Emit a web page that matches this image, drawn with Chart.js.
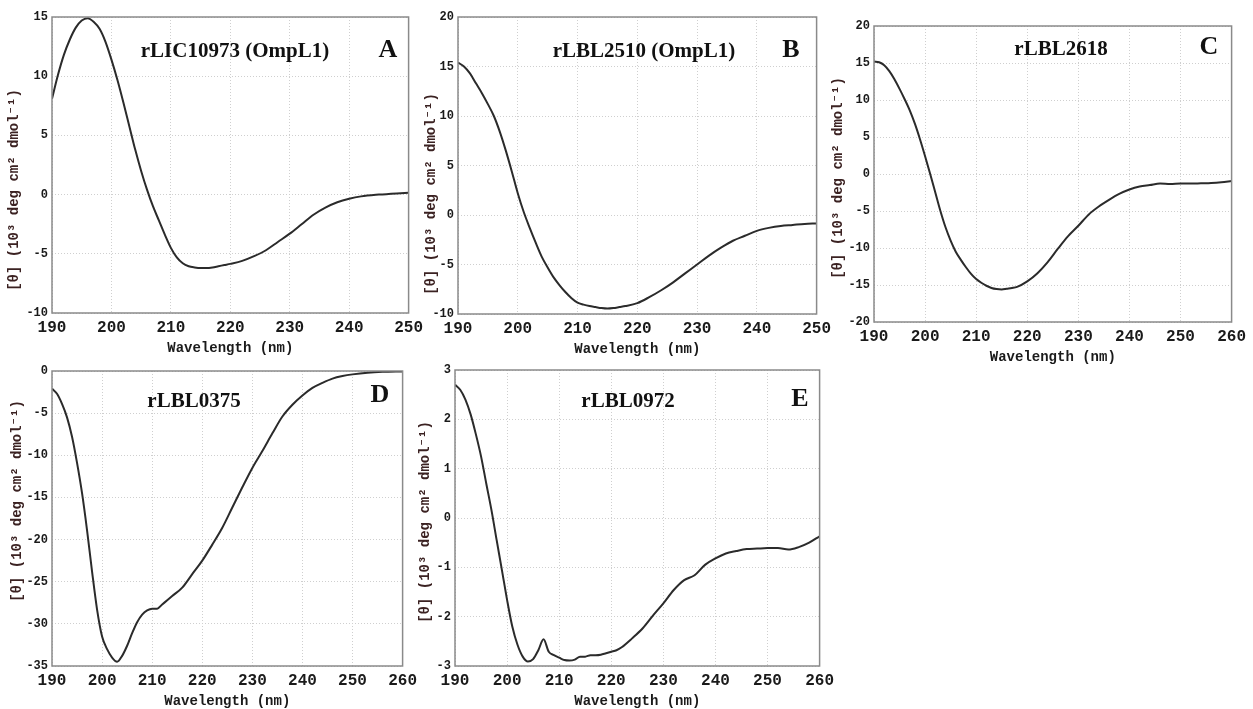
<!DOCTYPE html>
<html>
<head>
<meta charset="utf-8">
<script src="https://cdn.jsdelivr.net/npm/chart.js@4.4.1/dist/chart.umd.min.js"></script>
<style>
  html, body { margin: 0; padding: 0; background: #fff; overflow: hidden; }
  body { width: 1253px; height: 709px; position: relative; }
  canvas { position: absolute; }
</style>
</head>
<body>
<canvas id="chartA" width="426" height="356" style="left:2px;top:5px"></canvas>
<canvas id="chartB" width="417" height="357" style="left:419px;top:5px"></canvas>
<canvas id="chartC" width="425" height="356" style="left:826px;top:14px"></canvas>
<canvas id="chartD" width="417" height="355" style="left:5px;top:359px"></canvas>
<canvas id="chartE" width="426" height="356" style="left:413px;top:358px"></canvas>
<script>
// CD spectra data (wavelength nm, mean residue ellipticity x10^3)
const wlA = [190,191,192,193,194,195,196,197,198,199,200,201,202,203,204,205,206,207,208,209,210,211,212,213,214,215,216,217,218,219,220,222,224,226,228,230,232,234,236,238,240,242,245,248,250];
const thetaA = [8.1,10.1,11.8,13.1,14.1,14.7,14.9,14.6,14.0,12.9,11.4,9.7,7.8,5.8,3.8,2.0,0.4,-1.0,-2.2,-3.4,-4.5,-5.3,-5.8,-6.05,-6.15,-6.2,-6.2,-6.15,-6.05,-5.95,-5.85,-5.6,-5.2,-4.7,-4.0,-3.3,-2.5,-1.7,-1.1,-0.65,-0.35,-0.15,0.0,0.1,0.15];

const wlB = [190,191,192,193,194,195,196,197,198,199,200,201,202,203,204,205,206,207,208,209,210,211,212,213,214,215,216,217,218,220,222,224,226,228,230,232,234,236,238,240,242,244,246,248,250];
const thetaB = [15.4,15.0,14.3,13.3,12.3,11.2,10.0,8.4,6.5,4.4,2.2,0.3,-1.3,-2.8,-4.2,-5.3,-6.3,-7.1,-7.8,-8.4,-8.85,-9.05,-9.2,-9.3,-9.4,-9.45,-9.4,-9.3,-9.2,-8.9,-8.3,-7.6,-6.8,-5.9,-5.0,-4.1,-3.3,-2.6,-2.1,-1.6,-1.3,-1.1,-1.0,-0.9,-0.85];

const wlC = [190,191,192,193,194,195,196,197,198,199,200,201,202,203,204,205,206,207,208,209,210,211,212,213,214,215,216,217,218,220,222,224,226,228,230,232,234,236,238,240,242,244,246,248,250,252,254,256,258,260];
const thetaC = [15.2,15.1,14.7,13.9,12.8,11.5,10.1,8.6,6.8,4.7,2.4,0.0,-2.5,-5.0,-7.2,-9.0,-10.5,-11.6,-12.6,-13.5,-14.2,-14.7,-15.1,-15.4,-15.55,-15.6,-15.5,-15.4,-15.25,-14.5,-13.4,-11.9,-10.1,-8.4,-7.0,-5.5,-4.4,-3.5,-2.7,-2.1,-1.7,-1.5,-1.3,-1.35,-1.3,-1.3,-1.25,-1.2,-1.1,-0.95];

const wlD = [190,191,192,193,194,195,196,197,198,199,200,201,202,203,204,205,206,207,208,209,210,211,212,213,214,216,218,220,222,224,226,228,230,232,234,236,238,240,242,244,246,248,250,253,256,260];
const thetaD = [-2.1,-2.7,-3.9,-5.5,-7.8,-10.9,-14.5,-18.9,-23.8,-28.3,-31.5,-33.0,-34.0,-34.5,-33.8,-32.6,-31.1,-29.8,-28.9,-28.4,-28.2,-28.2,-27.7,-27.2,-26.7,-25.7,-24.1,-22.5,-20.6,-18.6,-16.2,-13.8,-11.5,-9.5,-7.4,-5.4,-4.0,-2.9,-2.0,-1.4,-0.9,-0.6,-0.4,-0.2,-0.1,-0.05];

const wlE = [190,191,192,193,194,195,196,197,198,199,200,201,202,203,204,205,206,207,208,209,210,211,212,213,214,215,216,217,218,219,220,221,222,224,226,228,230,232,234,236,238,240,242,244,246,248,250,252,254,256,258,260];
const thetaE = [2.7,2.6,2.4,2.1,1.7,1.25,0.7,0.16,-0.45,-1.05,-1.66,-2.2,-2.57,-2.81,-2.91,-2.86,-2.68,-2.46,-2.71,-2.78,-2.83,-2.88,-2.89,-2.87,-2.81,-2.81,-2.78,-2.78,-2.77,-2.74,-2.71,-2.68,-2.62,-2.44,-2.24,-1.98,-1.73,-1.46,-1.26,-1.16,-0.95,-0.82,-0.72,-0.67,-0.63,-0.62,-0.61,-0.61,-0.64,-0.59,-0.5,-0.37];

const yTitle = "[θ] (10³ deg cm² dmol⁻¹)";
const xTitle = "Wavelength (nm)";

// panel labels, y-axis title and the plot frame
const panelText = {
  id: "panelText",
  afterDraw(chart, args, opts) {
    const { ctx, chartArea } = chart;
    ctx.save();
    ctx.strokeStyle = "#8a8a8a";
    ctx.lineWidth = 1.5;
    ctx.strokeRect(chartArea.left, chartArea.top, chartArea.right - chartArea.left, chartArea.bottom - chartArea.top);
    ctx.fillStyle = "#111";
    ctx.textAlign = "center";
    ctx.textBaseline = "middle";
    ctx.font = "bold 21px 'Liberation Serif', 'Times New Roman', serif";
    ctx.fillText(opts.name, chartArea.left + opts.nameX, chartArea.top + opts.nameY);
    ctx.font = "bold 26px 'Liberation Serif', 'Times New Roman', serif";
    ctx.fillText(opts.letter, chartArea.left + opts.letterX, chartArea.top + opts.letterY);
    // y title
    ctx.translate(12, opts.yTitleY);
    ctx.rotate(-Math.PI / 2);
    ctx.fillStyle = "#3b2222";
    ctx.font = "bold 14px 'Liberation Mono', 'Courier New', monospace";
    ctx.fillText(yTitle, 0, 0);
    ctx.restore();
  },
};

function makeChart(id, wl, theta, xMax, yMin, yMax, yStep, yWidth, label) {
  return new Chart(document.getElementById(id).getContext("2d"), {
    type: "line",
    data: {
      datasets: [
        {
          data: wl.map((w, i) => ({ x: w, y: theta[i] })),
          borderColor: "#2b2b2b",
          borderWidth: 2,
          pointRadius: 0,
          cubicInterpolationMode: "monotone",
        },
      ],
    },
    options: {
      responsive: false,
      animation: false,
      layout: { padding: { left: 0, top: 12, right: 18, bottom: 0 } },
      plugins: {
        legend: { display: false },
        tooltip: { enabled: false },
        panelText: label,
      },
      scales: {
        x: {
          type: "linear",
          min: 190,
          max: xMax,
          afterFit: (s) => { s.height = 48; },
          ticks: {
            stepSize: 10,
            padding: 5,
            color: "#1a1a1a",
            font: { family: "'Liberation Mono', 'Courier New', monospace", size: 16, weight: "bold" },
          },
          grid: { color: "#cfcfcf", drawTicks: false },
          border: { display: false, dash: [1, 2] },
          title: {
            display: true,
            text: xTitle,
            color: "#1a1a1a",
            padding: { top: 0, bottom: 4 },
            font: { family: "'Liberation Mono', 'Courier New', monospace", size: 14, weight: "bold" },
          },
        },
        y: {
          min: yMin,
          max: yMax,
          afterFit: (s) => { s.width = yWidth; },
          ticks: {
            stepSize: yStep,
            padding: 4,
            color: "#1a1a1a",
            font: { family: "'Liberation Mono', 'Courier New', monospace", size: 12, weight: "bold" },
          },
          grid: { color: "#cfcfcf", drawTicks: false },
          border: { display: false, dash: [1, 2] },
        },
      },
    },
    plugins: [panelText],
  });
}

makeChart("chartA", wlA, thetaA, 250, -10, 15, 5, 50,
  { name: "rLIC10973 (OmpL1)", nameX: 183, nameY: 35, letter: "A", letterX: 336, letterY: 33, yTitleY: 185 });
makeChart("chartB", wlB, thetaB, 250, -10, 20, 5, 39,
  { name: "rLBL2510 (OmpL1)", nameX: 186, nameY: 35, letter: "B", letterX: 333, letterY: 33, yTitleY: 189 });
makeChart("chartC", wlC, thetaC, 260, -20, 20, 5, 48,
  { name: "rLBL2618", nameX: 187, nameY: 24, letter: "C", letterX: 335, letterY: 21, yTitleY: 164 });
makeChart("chartD", wlD, thetaD, 260, -35, 0, 5, 47,
  { name: "rLBL0375", nameX: 142, nameY: 31, letter: "D", letterX: 328, letterY: 24, yTitleY: 142 });
makeChart("chartE", wlE, thetaE, 260, -3, 3, 1, 42,
  { name: "rLBL0972", nameX: 173, nameY: 32, letter: "E", letterX: 345, letterY: 29, yTitleY: 164 });
</script>
</body>
</html>
